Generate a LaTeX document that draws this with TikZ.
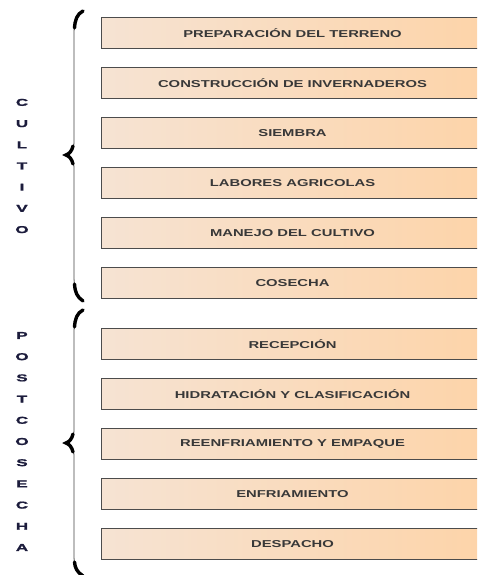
\documentclass[tikz,border=0pt]{standalone}
\usepackage{fontspec}
\setmainfont{Liberation Sans}
\newfontfamily\widefont{Liberation Sans}[FakeStretch=1.48]
\newfontfamily\heavyfont{Liberation Sans}[FakeStretch=1.7, FakeBold=1.6]
\begin{document}
\begin{tikzpicture}[x=1pt,y=-1pt]
\useasboundingbox (0,0) rectangle (477,575);
\clip (0,0) rectangle (477,575);
\tikzset{
  stagebox/.style={rectangle, anchor=north west, minimum width=382pt,
    minimum height=31pt, inner sep=0pt, draw=black!70, line width=1pt,
    left color=stageL, right color=stageR, text=black!78,
    font=\widefont\bfseries\fontsize{10}{11}\selectfont},
  phaselabel/.style={align=center, text=sidetext, inner sep=0pt,
    font=\heavyfont\bfseries\fontsize{10}{21.2}\selectfont},
  bracethin/.style={draw=black!40, line width=1.3pt},
  bracethick/.style={draw=black, line width=3.4pt, line cap=round}
}
\definecolor{stageL}{HTML}{F6E3D3}
\definecolor{stageR}{HTML}{FDD4A9}
\definecolor{sidetext}{HTML}{1C1C3C}

% Cultivo stages
\node[stagebox] (s1) at (101,17)  {PREPARACIÓN DEL TERRENO};
\node[stagebox] (s2) at (101,67)  {CONSTRUCCIÓN DE INVERNADEROS};
\node[stagebox] (s3) at (101,117) {SIEMBRA};
\node[stagebox] (s4) at (101,167) {LABORES AGRICOLAS};
\node[stagebox] (s5) at (101,217) {MANEJO DEL CULTIVO};
\node[stagebox] (s6) at (101,267) {COSECHA};
% Postcosecha stages
\node[stagebox] (p1) at (101,328) {RECEPCIÓN};
\node[stagebox] (p2) at (101,378) {HIDRATACIÓN Y CLASIFICACIÓN};
\node[stagebox] (p3) at (101,428) {REENFRIAMIENTO Y EMPAQUE};
\node[stagebox] (p4) at (101,478) {ENFRIAMIENTO};
\node[stagebox] (p5) at (101,528) {DESPACHO};

% Vertical phase names
\node[phaselabel] (cultivo) at (22,166) {C\\U\\L\\T\\I\\V\\O};
\node[phaselabel] (postcosecha) at (22,441.5) {P\\O\\S\\T\\C\\O\\S\\E\\C\\H\\A};

% Brace for the cultivo phase
\draw[bracethin] (83,11) .. controls (76,14) and (74,22) .. (74,35)
  -- (74,143) .. controls (74,150) and (70,154) .. (65,155)
  .. controls (70,156) and (74,160) .. (74,167)
  -- (74,275) .. controls (74,288) and (76,296) .. (83,301);
\draw[bracethick] (83,11) .. controls (77,14) and (75,20) .. (74.5,28);
\draw[bracethick] (73,146) .. controls (72,151) and (69,154) .. (66,155)
  .. controls (69,156) and (72,159) .. (73,164);
\draw[bracethick] (74.5,284) .. controls (75,292) and (77,297) .. (83,301);

% Brace for the postcosecha phase
\draw[bracethin] (83,310) .. controls (76,313) and (74,321) .. (74,334)
  -- (74,431) .. controls (74,438) and (70,442) .. (65,443)
  .. controls (70,444) and (74,448) .. (74,455)
  -- (74,555) .. controls (74,565) and (76,570) .. (83,575);
\draw[bracethick] (83,310) .. controls (77,313) and (75,319) .. (74.5,327);
\draw[bracethick] (73,434) .. controls (72,439) and (69,442) .. (66,443)
  .. controls (69,444) and (72,447) .. (73,452);
\draw[bracethick] (74.5,562) .. controls (75,568) and (77,572) .. (83,576);
\end{tikzpicture}
\end{document}
